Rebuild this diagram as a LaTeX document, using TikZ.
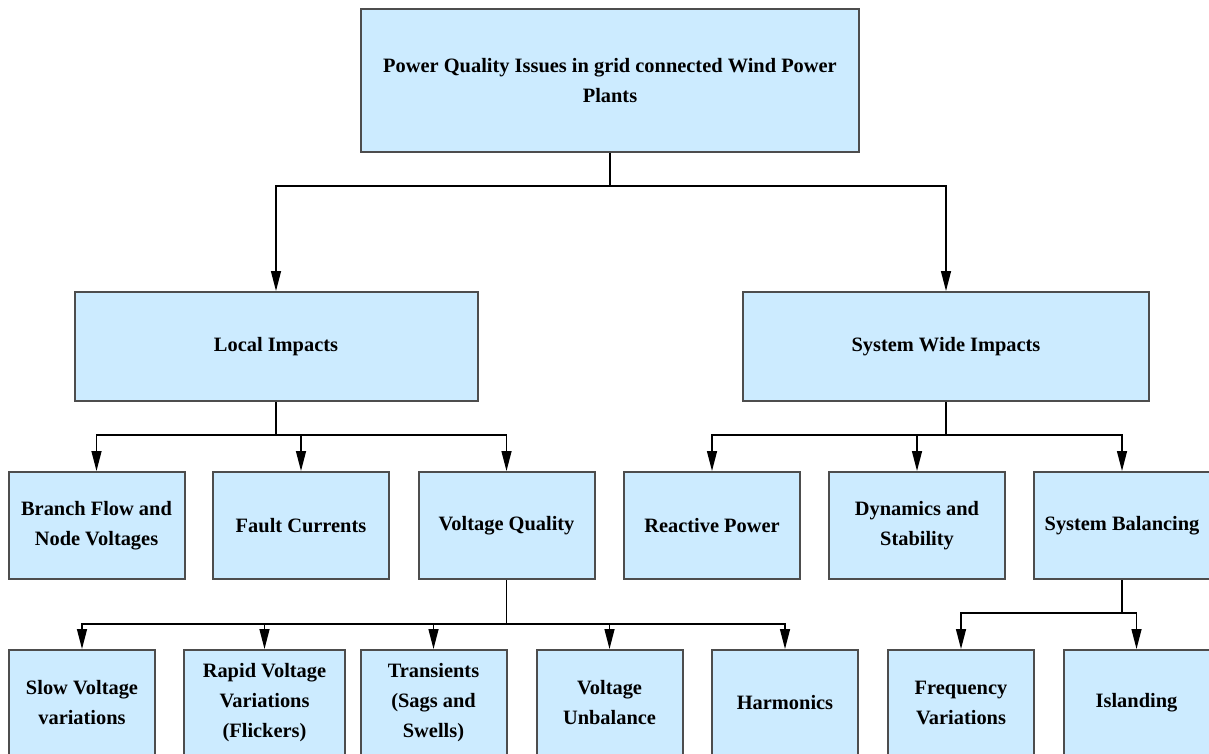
\documentclass[tikz,border=0pt]{standalone}
\usepackage{fontspec}
\setmainfont{Liberation Serif}
\usetikzlibrary{arrows.meta,positioning}

\definecolor{skyfill}{HTML}{CCEBFF}
\definecolor{boxline}{HTML}{4D4D4D}

\begin{document}
\begin{tikzpicture}[x=0.5pt,y=-0.5pt,
    issue/.style={draw=boxline, line width=1pt, fill=skyfill, align=center,
      font=\bfseries\fontsize{10.2}{15}\selectfont, inner sep=0pt},
    level3/.style={issue, minimum width=88pt, minimum height=53.5pt},
    level4/.style={issue, minimum width=73pt, minimum height=53pt},
    link/.style={draw=black, line width=0.7pt, -{Triangle[length=10pt,width=5pt]}}]
    \useasboundingbox (0,0) rectangle (1209,754);

    % Top box
    \node[issue, minimum width=249pt, minimum height=71.5pt] (pq) at (610,80.5)
        {Power Quality Issues in grid connected Wind Power\\Plants};

    % Local and system wide impacts
    \node[issue, minimum width=201.5pt, minimum height=54.5pt] (local) at (276,346.5) {Local Impacts};
    \node[issue, minimum width=203pt, minimum height=54.5pt] (wide) at (946,346.5) {System Wide Impacts};

    % Third level
    \node[level3] (branch) at (96.5,525.5) {Branch Flow and\\Node Voltages};
    \node[level3] (fault) at (301,525.5) {Fault Currents};
    \node[level3] (vq) at (506.5,525.5) {Voltage Quality};
    \node[level3] (reactive) at (712,525.5) {Reactive Power};
    \node[level3] (dyn) at (917,525.5) {Dynamics and\\Stability};
    \node[level3] (balance) at (1122,525.5) {System Balancing};

    % Fourth level
    \node[level4] (slow) at (82,703) {Slow Voltage\\variations};
    \node[level4, minimum width=80.5pt] (rapid) at (264.5,703) {Rapid Voltage\\Variations\\(Flickers)};
    \node[level4] (trans) at (433.5,703) {Transients\\(Sags and\\Swells)};
    \node[level4] (unbal) at (609.5,703) {Voltage\\Unbalance};
    \node[level4] (harm) at (785,703) {Harmonics};
    \node[level4] (freq) at (961,703) {Frequency\\Variations};
    \node[level4] (island) at (1136.5,703) {Islanding};

    % Connectors
    \foreach \c in {local,wide}
        \draw[link] (pq.south) -- ++(0,33) -| (\c.north);
    \foreach \c in {branch,fault,vq}
        \draw[link] (local.south) -- ++(0,33) -| (\c.north);
    \foreach \c in {reactive,dyn,balance}
        \draw[link] (wide.south) -- ++(0,33) -| (\c.north);
    \foreach \c in {slow,rapid,trans,unbal,harm}
        \draw[link] (vq.south) -- ++(0,44) -| (\c.north);
    \foreach \c in {freq,island}
        \draw[link] (balance.south) -- ++(0,33) -| (\c.north);
\end{tikzpicture}
\end{document}
